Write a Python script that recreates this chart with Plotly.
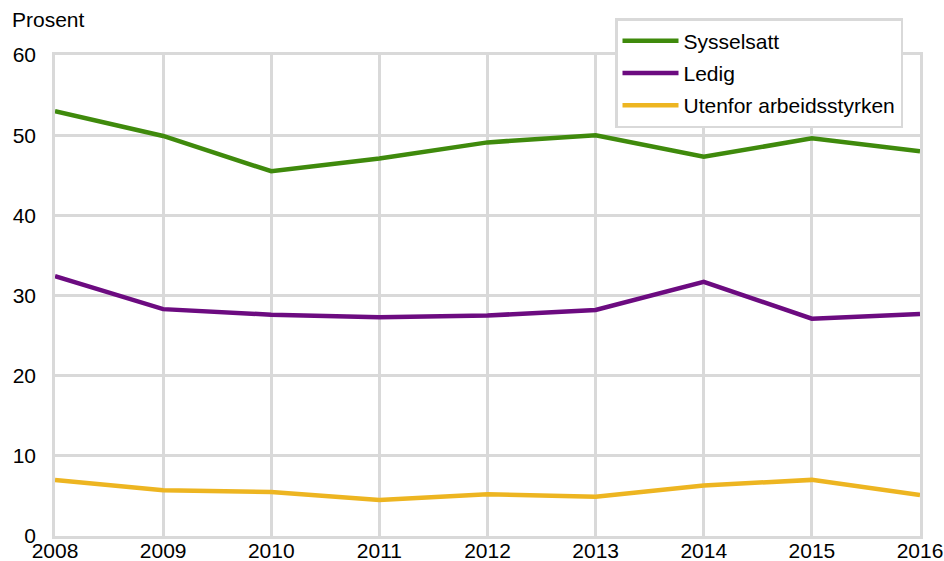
import plotly.graph_objects as go

years = [2008, 2009, 2010, 2011, 2012, 2013, 2014, 2015, 2016]
sysselsatt = [53.0, 49.9, 45.5, 47.1, 49.1, 50.0, 47.3, 49.6, 48.0]
ledig = [32.4, 28.3, 27.6, 27.3, 27.5, 28.2, 31.7, 27.1, 27.7]
utenfor = [7.0, 5.7, 5.5, 4.5, 5.2, 4.9, 6.3, 7.0, 5.1]

names = ["Sysselsatt", "Ledig", "Utenfor arbeidsstyrken"]
colors = ["#3f8a0c", "#6c0b80", "#edb521"]
series = [sysselsatt, ledig, utenfor]

fig = go.Figure()
for n, c, s in zip(names, colors, series):
    fig.add_trace(go.Scatter(x=years, y=s, name=n, mode="lines", legendgroup=n,
                             line=dict(color=c, width=4.5)))

grid = "#d9d9d9"
FS = 21
W, H = 944, 561
fig.update_layout(
    width=W, height=H,
    margin=dict(l=55, r=24, t=55, b=25, autoexpand=False),
    paper_bgcolor="white", plot_bgcolor="white",
    font=dict(family="Liberation Sans, Arial, sans-serif", size=FS, color="black"),
    showlegend=True,
    legend=dict(xref="container", yref="container", x=615 / W, y=1 - 18 / H,
                xanchor="left", yanchor="top", itemwidth=56,
                bgcolor="white", bordercolor=grid, borderwidth=2.5,
                font=dict(size=FS), tracegroupgap=2),
    xaxis=dict(range=[2008, 2016], tickvals=years, ticktext=[str(y) for y in years],
               showgrid=True, gridcolor=grid, gridwidth=2.5, zeroline=False,
               showline=True, linecolor=grid, linewidth=2.5, mirror=True,
               ticks="", ticklen=0, tickfont=dict(size=FS), ticklabelstandoff=-6,
               automargin=False),
    yaxis=dict(range=[0, 60], tickvals=[0, 10, 20, 30, 40, 50, 60],
               showgrid=True, gridcolor=grid, gridwidth=2.5, zeroline=False,
               showline=True, linecolor=grid, linewidth=2.5, mirror=True,
               ticks="", tickfont=dict(size=FS), ticklabelstandoff=12,
               automargin=False),
    annotations=[dict(text="Prosent", xref="paper", yref="paper", x=-0.052, y=1.073,
                      xanchor="left", yanchor="middle", showarrow=False,
                      font=dict(size=FS))],
)
fig.write_html(
    "out.html",
    config={"displayModeBar": False},
    post_script="document.body.style.margin='0';"
                "document.documentElement.style.overflow='hidden';"
                "document.body.style.overflow='hidden';",
)
